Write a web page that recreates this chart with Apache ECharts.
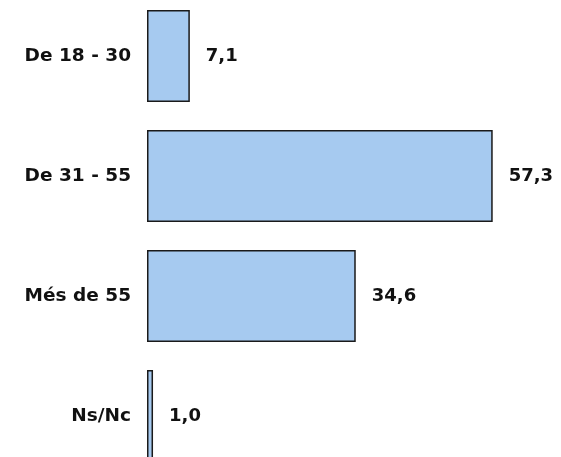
<!DOCTYPE html>
<html>
<head>
<meta charset="utf-8">
<script src="https://cdn.jsdelivr.net/npm/echarts@6/dist/echarts.min.js"></script>
<style>
  html, body { margin: 0; padding: 0; background: #ffffff; }
  #chart { width: 561px; height: 457px; }
</style>
</head>
<body>
<div id="chart"></div>
<script>
// Age groups, top to bottom, and their percentage shares
const categories = ['De 18 - 30', 'De 31 - 55', 'Més de 55', 'Ns/Nc'];
const values = [7.1, 57.3, 34.6, 1.0];

const chart = echarts.init(document.getElementById('chart'), null, { renderer: 'canvas' });

const baseFont = {
  fontFamily: '"DejaVu Sans", Verdana, sans-serif',
  fontWeight: 'bold',
  color: '#111111',
  padding: [4, 0, 0, 0]
};

chart.setOption({
  animation: false,
  grid: {
    left: 147, top: -4, width: 362, height: 480,
    containLabel: false,
    outerBoundsMode: 'none'
  },
  xAxis: {
    type: 'value',
    min: 0,
    max: 60,
    show: false
  },
  yAxis: {
    type: 'category',
    data: categories,
    inverse: true,
    axisLine: { show: false },
    axisTick: { show: false },
    splitLine: { show: false },
    axisLabel: Object.assign({ margin: 16, fontSize: 18.5 }, baseFont)
  },
  series: [{
    type: 'bar',
    data: values,
    barWidth: 92,
    itemStyle: {
      color: '#a6caf0',
      borderColor: '#1a1a1a',
      borderWidth: 1.5
    },
    label: Object.assign({
      show: true,
      position: 'right',
      distance: 16,
      fontSize: 18,
      formatter: p => p.value.toFixed(1).replace('.', ',')
    }, baseFont)
  }]
});
</script>
</body>
</html>
